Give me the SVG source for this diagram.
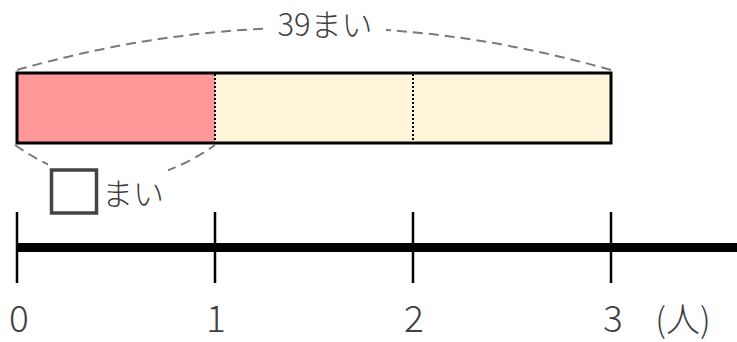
<svg xmlns="http://www.w3.org/2000/svg" width="737" height="342" viewBox="0 0 737 342">
<style>
  .lbl{font-family:"Noto Sans CJK JP","Noto Sans",sans-serif;fill:#404040;font-weight:300}
  .arc{fill:none;stroke:#7a7a7a;stroke-width:2;stroke-dasharray:10,6}
  .tick{stroke:#000;stroke-width:2.5}
  .div{stroke:#000;stroke-width:2;stroke-dasharray:2,2}
</style>
<defs>
  <mask id="mtop"><rect x="0" y="0" width="737" height="342" fill="#fff"/><rect x="264" y="0" width="122" height="45" fill="#000"/></mask>
  <mask id="mbot"><rect x="0" y="0" width="737" height="342" fill="#fff"/><rect x="48" y="162" width="120" height="60" fill="#000"/></mask>
</defs>
<g id="connectors">
  <path class="arc" d="M17,70 Q314,-15 611,70" mask="url(#mtop)"/>
  <path class="arc" d="M15,145 Q115,215 215,145" mask="url(#mbot)"/>
</g>
<g id="bar">
  <rect x="17" y="73" width="198" height="70" fill="#ff9999"/>
  <rect x="215" y="73" width="396" height="70" fill="#fff5da"/>
  <line class="div" x1="215" y1="74" x2="215" y2="142"/>
  <line class="div" x1="413" y1="74" x2="413" y2="142"/>
  <rect x="17" y="73" width="594" height="70" fill="none" stroke="#000" stroke-width="3"/>
</g>
<g id="total-label">
  <text class="lbl" x="325" y="36" font-size="31" text-anchor="middle">39まい</text>
</g>
<g id="unknown-label">
  <rect x="51.5" y="170" width="45" height="43" fill="none" stroke="#444" stroke-width="3.5"/>
  <text class="lbl" x="102" y="205" font-size="31">まい</text>
</g>
<g id="number-line">
  <line x1="17" y1="247.5" x2="737" y2="247.5" stroke="#000" stroke-width="9"/>
  <line class="tick" x1="17" y1="212" x2="17" y2="283"/>
  <line class="tick" x1="215" y1="212" x2="215" y2="283"/>
  <line class="tick" x1="413" y1="212" x2="413" y2="283"/>
  <line class="tick" x1="611" y1="212" x2="611" y2="283"/>
  <text class="lbl" x="19" y="332" font-size="37" text-anchor="middle">0</text>
  <text class="lbl" x="216" y="332" font-size="37" text-anchor="middle">1</text>
  <text class="lbl" x="414" y="332" font-size="37" text-anchor="middle">2</text>
  <text class="lbl" x="613" y="332" font-size="37" text-anchor="middle">3</text>
  <text class="lbl" x="683" y="332" font-size="34" text-anchor="middle">(人)</text>
</g>
</svg>
